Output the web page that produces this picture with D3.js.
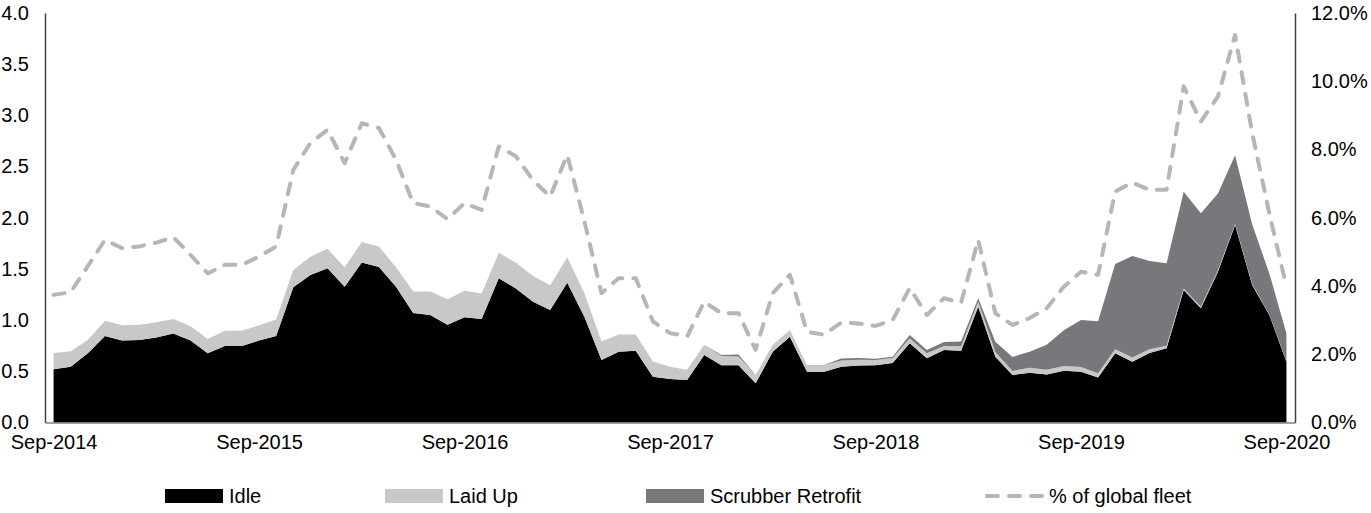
<!DOCTYPE html>
<html>
<head>
<meta charset="utf-8">
<script src="https://cdn.jsdelivr.net/npm/d3@7"></script>
<style>
  html, body { margin: 0; padding: 0; background: #fff; }
  svg { display: block; font-family: "Liberation Sans", Arial, sans-serif; }
</style>
</head>
<body>
<svg id="chart" width="1371" height="513"></svg>
<script>
// Monthly, Sep-2014 .. Sep-2020 (73 months)
const months = d3.range(73).map(i => {
  const d = new Date(2014, 8 + i, 1);
  return d3.timeFormat("%b-%Y")(d);
});
const tickLabels = ["Sep-2014","Sep-2015","Sep-2016","Sep-2017","Sep-2018","Sep-2019","Sep-2020"];
const leftTicks = [0, 0.5, 1.0, 1.5, 2.0, 2.5, 3.0, 3.5, 4.0];
const rightTicks = [0, 0.02, 0.04, 0.06, 0.08, 0.10, 0.12];

const idle = [0.52,0.545,0.676,0.845,0.80,0.805,0.83,0.87,0.80,0.676,0.747,0.747,0.80,0.845,
  1.32,1.44,1.506,1.326,1.564,1.52,1.326,1.07,1.05,0.955,1.027,1.01,1.408,1.31,1.18,1.10,1.365,
  1.033,0.61,0.69,0.70,0.447,0.425,0.415,0.66,0.56,0.56,0.383,0.69,0.838,0.496,0.496,0.545,0.558,
  0.56,0.58,0.773,0.627,0.708,0.70,1.13,0.643,0.464,0.486,0.47,0.506,0.496,0.44,0.676,0.594,0.68,
  0.725,1.294,1.115,1.473,1.93,1.343,1.05,0.594];
const laidUp = [0.16,0.15,0.13,0.15,0.15,0.15,0.15,0.14,0.14,0.14,0.15,0.15,0.15,0.16,
  0.17,0.18,0.19,0.19,0.20,0.20,0.19,0.21,0.23,0.25,0.26,0.25,0.25,0.25,0.25,0.24,0.25,
  0.23,0.18,0.17,0.16,0.15,0.12,0.10,0.10,0.09,0.085,0.08,0.07,0.065,0.065,0.065,0.06,0.055,
  0.05,0.05,0.05,0.05,0.04,0.045,0.05,0.045,0.04,0.05,0.045,0.045,0.045,0.04,0.04,0.04,0.035,
  0.025,0.015,0.015,0.015,0.01,0.01,0.006,0.006];
const scrubber = [0,0,0,0,0,0,0,0,0,0,0,0,0,0,
  0,0,0,0,0,0,0,0,0,0,0,0,0,0,0,0,0,
  0,0,0,0,0,0,0,0,0.01,0.02,0,0,0,0,0,0.02,0.017,
  0.013,0.013,0.032,0.032,0.039,0.045,0.033,0.10,0.137,0.155,0.244,0.351,0.46,0.51,0.833,0.993,0.862,
  0.805,0.944,0.913,0.748,0.67,0.58,0.40,0.27];
const pctFleet = [3.74,3.82,4.58,5.35,5.11,5.16,5.27,5.43,4.91,4.37,4.62,4.62,4.86,5.16,
  7.4,8.19,8.58,7.6,8.77,8.63,7.7,6.43,6.33,5.96,6.43,6.23,8.09,7.8,7.1,6.62,7.84,
  5.9,3.79,4.23,4.23,2.96,2.62,2.52,3.54,3.2,3.2,2.13,3.79,4.33,2.66,2.57,2.93,2.9,
  2.83,3.0,3.94,3.15,3.64,3.51,5.35,3.2,2.86,3.06,3.35,3.98,4.42,4.33,6.77,7.03,6.82,
  6.82,9.85,8.82,9.55,11.36,8.48,6.13,3.98].map(v => v / 100);

const seriesNames = ["Idle", "Laid Up", "Scrubber Retrofit"];
const colors = { "Idle": "#000000", "Laid Up": "#c8c8ca", "Scrubber Retrofit": "#77787b" };
const lineColor = "#b6b6b8";

const table = months.map((m, i) => ({
  month: m, "Idle": idle[i], "Laid Up": laidUp[i], "Scrubber Retrofit": scrubber[i], pct: pctFleet[i]
}));

const svg = d3.select("#chart");
const plotL = 45, plotR = 1295, plotT = 13, plotB = 422.5;

const x = d3.scalePoint().domain(months).range([plotL, plotR]).padding(0.5);
const y = d3.scaleLinear().domain([0, 4]).range([plotB, plotT]);
const y2 = d3.scaleLinear().domain([0, 0.12]).range([plotB, plotT]);

const stacked = d3.stack().keys(seriesNames)(table);
const area = d3.area()
  .x(d => x(d.data.month))
  .y0(d => y(d[0]))
  .y1(d => y(d[1]));

svg.append("g").selectAll("path").data(stacked).join("path")
  .attr("d", area)
  .attr("fill", d => colors[d.key]);

// dashed line
const line = d3.line().x(d => x(d.month)).y(d => y2(d.pct));
svg.append("path").datum(table)
  .attr("d", line)
  .attr("fill", "none")
  .attr("stroke", lineColor)
  .attr("stroke-width", 4)
  .attr("stroke-linecap", "round")
  .attr("stroke-linejoin", "round")
  .attr("stroke-dasharray", "11,11");

// axes
const fontSize = "20px";
const ff = "Liberation Sans, Arial, sans-serif";
const yAxisL = svg.append("g").attr("transform", `translate(${plotL},0)`)
  .call(d3.axisLeft(y).tickValues(leftTicks).tickFormat(d3.format(".1f")).tickSize(0).tickPadding(16));
yAxisL.select(".domain").attr("stroke", "#404040").attr("stroke-width", 1.5);
yAxisL.selectAll("text").attr("font-size", fontSize).attr("fill", "#000").attr("font-family", ff);

const yAxisR = svg.append("g").attr("transform", `translate(${plotR},0)`)
  .call(d3.axisRight(y2).tickValues(rightTicks).tickFormat(d3.format(".1%")).tickSize(0).tickPadding(16));
yAxisR.select(".domain").attr("stroke", "#404040").attr("stroke-width", 1.5);
yAxisR.selectAll("text").attr("font-size", fontSize).attr("fill", "#000").attr("font-family", ff);

const xAxis = svg.append("g").attr("transform", `translate(0,${plotB})`)
  .call(d3.axisBottom(x).tickValues(tickLabels).tickSize(0).tickPadding(12));
xAxis.select(".domain").attr("stroke", "#808080").attr("stroke-width", 1.5);
xAxis.selectAll("text").attr("font-size", fontSize).attr("fill", "#000").attr("font-family", ff);

// legend
const legendItems = [
  { name: "Idle", type: "rect", color: colors["Idle"], x: 165 },
  { name: "Laid Up", type: "rect", color: colors["Laid Up"], x: 385 },
  { name: "Scrubber Retrofit", type: "rect", color: colors["Scrubber Retrofit"], x: 646 },
  { name: "% of global fleet", type: "line", color: lineColor, x: 985 }
];
const ly = 496;
const lg = svg.append("g");
legendItems.forEach(it => {
  const g = lg.append("g").attr("transform", `translate(${it.x},${ly})`);
  if (it.type === "rect") {
    g.append("rect").attr("x", 0).attr("y", -7).attr("width", 58).attr("height", 14).attr("fill", it.color);
  } else {
    g.append("line").attr("x1", 2).attr("x2", 58).attr("y1", 0).attr("y2", 0)
      .attr("stroke", it.color).attr("stroke-width", 4).attr("stroke-linecap", "round")
      .attr("stroke-dasharray", "11,11");
  }
  g.append("text").attr("x", 64).attr("y", 0).attr("dy", "0.35em")
    .attr("font-size", fontSize).attr("font-family", ff).attr("fill", "#000").text(it.name);
});
</script>
</body>
</html>
